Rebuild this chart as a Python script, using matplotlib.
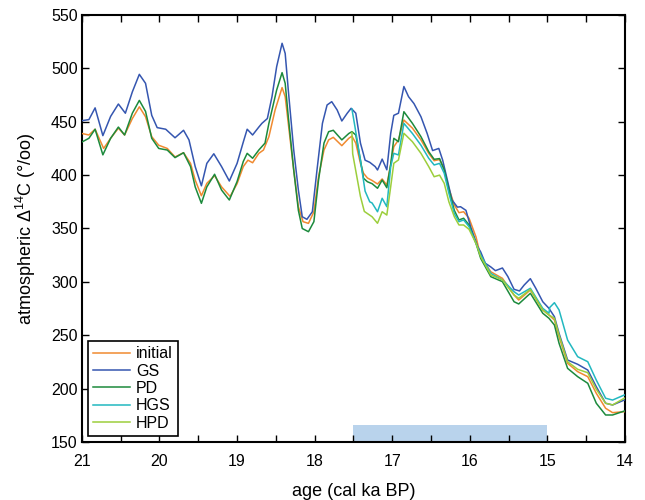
import numpy as np
import matplotlib.pyplot as plt
from matplotlib.ticker import MultipleLocator

plt.rcParams['font.family'] = ['Liberation Sans', 'DejaVu Sans']
plt.rcParams['mathtext.default'] = 'regular'

# ages (cal ka BP) and atmospheric D14C (permil)
age_init = [21.00, 20.91, 20.83, 20.72, 20.63, 20.53, 20.45, 20.35, 20.26, 20.18,
            20.10, 20.01, 19.90, 19.80, 19.69, 19.60, 19.54, 19.46, 19.39, 19.29,
            19.20, 19.09, 19.00, 18.92, 18.86, 18.80, 18.72, 18.66, 18.59, 18.51,
            18.42, 18.38, 18.34, 18.27, 18.21, 18.15, 18.08, 18.01, 17.95, 17.88,
            17.82, 17.76, 17.65, 17.56, 17.52, 17.47, 17.41, 17.37, 17.32, 17.26,
            17.19, 17.13, 17.07, 17.02, 16.98, 16.92, 16.85, 16.74, 16.63, 16.53,
            16.46, 16.39, 16.33, 16.27, 16.20, 16.14, 16.08, 16.01, 15.92, 15.86,
            15.73, 15.58, 15.43, 15.37, 15.22, 15.06, 14.98, 14.91, 14.85, 14.74,
            14.61, 14.48, 14.37, 14.25, 14.16, 14.01]
d14c_init = [439, 437.6, 443, 425, 434.5, 444, 437.6, 453, 464, 454.7,
             436, 428, 425, 417, 421, 411, 395.4, 380.7, 392.3, 399.5,
             389, 380, 392, 408, 414, 411.6, 420.4, 423.5, 436, 461,
             482, 473.5, 448.5, 404.8, 370.4, 356.4, 354.8, 365.7, 398.5, 423.5,
             433, 435.4, 427.6, 434.5, 436.5, 430, 411, 401.7, 397.3, 395,
             391.7, 396.4, 390.7, 410, 426.6, 432.9, 451.6, 444, 433, 420.4,
             413.5, 414.6, 405.4, 387.5, 372, 364.8, 365.7, 359.6, 342, 323.6,
             309.5, 303.3, 287.7, 283, 292.4, 273.7, 269, 264.3, 248.6, 223.7,
             215.9, 211.2, 195.6, 181.6, 177.5, 178.4]

age_gs = [21.00, 20.91, 20.83, 20.73, 20.63, 20.53, 20.44, 20.35, 20.26, 20.18,
          20.10, 20.03, 19.92, 19.80, 19.69, 19.62, 19.54, 19.46, 19.39, 19.30,
          19.20, 19.10, 19.00, 18.92, 18.87, 18.80, 18.72, 18.68, 18.61, 18.55,
          18.49, 18.42, 18.38, 18.34, 18.27, 18.21, 18.16, 18.10, 18.03, 17.97,
          17.90, 17.84, 17.78, 17.71, 17.65, 17.58, 17.53, 17.47, 17.41, 17.35,
          17.29, 17.22, 17.19, 17.13, 17.07, 17.02, 16.98, 16.92, 16.85, 16.79,
          16.72, 16.63, 16.55, 16.48, 16.40, 16.35, 16.29, 16.23, 16.16, 16.12,
          16.05, 15.99, 15.90, 15.86, 15.80, 15.73, 15.67, 15.58, 15.51, 15.43,
          15.36, 15.30, 15.22, 15.15, 15.06, 14.98, 14.91, 14.85, 14.74, 14.61,
          14.48, 14.37, 14.25, 14.16, 14.01]
d14c_gs = [451, 452, 463, 437, 455, 466.6, 458, 478, 494.4, 486,
           456, 444.5, 443, 435, 442, 433, 408, 390, 411, 420,
           408, 394.5, 411, 431, 443, 437.6, 445, 448.5, 453, 473.5,
           501.6, 523.5, 514, 479.7, 423.5, 386, 361, 358.6, 365.7, 404.8,
           448.5, 465.7, 468.8, 461, 450.7, 458, 462.6, 458, 430, 414,
           412, 408, 404.8, 415, 405, 439, 456, 458, 483, 473.5,
           467, 454.7, 439, 423, 425, 414, 395.4, 376.7, 370, 370.4,
           367, 351.7, 333, 328, 317.4, 314, 310.5, 313, 305, 293,
           291.5, 297, 303, 294, 281.4, 275.2, 267.4, 251.8, 226.8, 222.8,
           217.4, 201.8, 186.3, 184.7, 189.3]

age_pd = [21.00, 20.91, 20.83, 20.73, 20.63, 20.53, 20.45, 20.35, 20.26, 20.18,
          20.10, 20.01, 19.90, 19.80, 19.69, 19.60, 19.54, 19.46, 19.39, 19.29,
          19.20, 19.10, 19.00, 18.92, 18.87, 18.80, 18.72, 18.64, 18.59, 18.49,
          18.42, 18.38, 18.34, 18.27, 18.21, 18.16, 18.08, 18.01, 17.95, 17.88,
          17.82, 17.76, 17.65, 17.56, 17.52, 17.47, 17.41, 17.37, 17.32, 17.26,
          17.19, 17.13, 17.07, 17.02, 16.98, 16.92, 16.85, 16.74, 16.63, 16.53,
          16.46, 16.39, 16.33, 16.27, 16.20, 16.14, 16.08, 16.01, 15.92, 15.86,
          15.73, 15.58, 15.43, 15.37, 15.22, 15.06, 14.98, 14.91, 14.85, 14.74,
          14.61, 14.48, 14.37, 14.25, 14.16, 14.01]
d14c_pd = [431, 434.5, 443, 419, 434.5, 445, 437.6, 458, 470, 459.7,
           434.5, 425, 423.5, 416.4, 421, 408, 389, 373.6, 389, 400.8,
           386, 376.7, 394, 412.8, 420.4, 415.8, 423.5, 430, 448.5, 479.7,
           496, 486, 454.7, 404.8, 367, 350, 347, 356.4, 395.4, 430,
           440.7, 442, 433, 439, 440.7, 437.6, 414, 397, 393.8, 392,
           387.7, 395.4, 388.2, 410, 434.5, 431.3, 459.4, 448.5, 436, 422,
           414.8, 415.5, 404.8, 386, 367, 358, 359.6, 353.3, 336, 322,
           304.9, 300.2, 281.4, 279.3, 289.3, 270.6, 265.9, 259.6, 242.5, 219,
           211.2, 205, 186.3, 175.3, 175.3, 179]

age_hgs = [17.52, 17.48, 17.41, 17.35, 17.29, 17.26, 17.19, 17.13, 17.07, 17.02,
           16.98, 16.92, 16.85, 16.74, 16.63, 16.53, 16.46, 16.39, 16.33, 16.27,
           16.20, 16.14, 16.08, 16.01, 15.92, 15.86, 15.73, 15.58, 15.43, 15.37,
           15.22, 15.06, 14.98, 14.97, 14.91, 14.85, 14.74, 14.61, 14.48, 14.37,
           14.25, 14.16, 14.01]
d14c_hgs = [462, 445, 414, 385, 375, 373.9, 365.7, 378.3, 370.4, 407.9,
            420.4, 418.9, 448.5, 439, 428, 415.8, 409.5, 411, 401.7, 383,
            364, 356.4, 358, 351.7, 336, 325.2, 308, 301.8, 290.8, 287.7,
            294, 275.2, 270.6, 276, 280.5, 273.7, 245.5, 229.9, 225.2, 208,
            191, 189.3, 194]

age_hpd = [17.52, 17.51, 17.46, 17.41, 17.36, 17.26, 17.19, 17.13, 17.07, 17.02,
           16.98, 16.92, 16.85, 16.74, 16.63, 16.53, 16.46, 16.39, 16.33, 16.27,
           16.20, 16.14, 16.08, 16.01, 15.92, 15.86, 15.73, 15.58, 15.43, 15.37,
           15.22, 15.06, 14.98, 14.91, 14.85, 14.74, 14.61, 14.48, 14.37, 14.25,
           14.16, 14.01]
d14c_hpd = [440, 420, 400, 380, 366, 361, 354.9, 365.7, 362.6, 389.2,
            411.1, 414.2, 439.2, 431.3, 420.4, 408, 398.5, 400, 392.3, 375,
            361, 353.3, 353.3, 349.2, 336, 323.6, 306.4, 301.8, 287.7, 284.6,
            293, 273.7, 269, 265.9, 250.2, 225.2, 218.1, 214.9, 199.4, 186.3,
            184.7, 191]

# shaded interval
band_age = [17.5, 15.0]
band_lo, band_hi = 150, 166

fig = plt.figure(figsize=(6.45, 5.0), dpi=100)
ax = fig.add_axes([0.127, 0.116, 0.842, 0.854])

ax.fill_between(band_age, band_lo, band_hi, color='#b9d3ec', lw=0, zorder=1)

ax.plot(age_init, d14c_init, color='#f08a30', lw=1.1, label='initial', zorder=3)
ax.plot(age_gs, d14c_gs, color='#3556b0', lw=1.1, label='GS', zorder=3)
ax.plot(age_pd, d14c_pd, color='#1c8a3c', lw=1.1, label='PD', zorder=3)
ax.plot(age_hgs, d14c_hgs, color='#22b8c0', lw=1.1, label='HGS', zorder=3)
ax.plot(age_hpd, d14c_hpd, color='#9cce3c', lw=1.1, label='HPD', zorder=3)

ax.set_xlim(21, 14)
ax.set_ylim(150, 550)
ax.xaxis.set_major_locator(MultipleLocator(1))
ax.xaxis.set_minor_locator(MultipleLocator(0.5))
ax.yaxis.set_major_locator(MultipleLocator(50))
ax.tick_params(which='both', direction='in', top=True, right=True,
               length=5, width=1, labelsize=11.5)
ax.tick_params(axis='x', pad=9)
ax.tick_params(axis='y', pad=3)
for s in ax.spines.values():
    s.set_linewidth(1.5)

ax.set_xlabel('age (cal ka BP)', fontsize=13, labelpad=10)
ax.set_ylabel('atmospheric Δ$^{14}$C (°/oo)', fontsize=13, labelpad=9)

leg = ax.legend(loc='lower left', fontsize=11.5, fancybox=False, framealpha=1,
                edgecolor='black', handlelength=2.3, labelspacing=0.15,
                borderpad=0.3, handletextpad=0.4, borderaxespad=0.4)
leg.get_frame().set_linewidth(1.2)

fig.savefig('out.png', dpi=100)
